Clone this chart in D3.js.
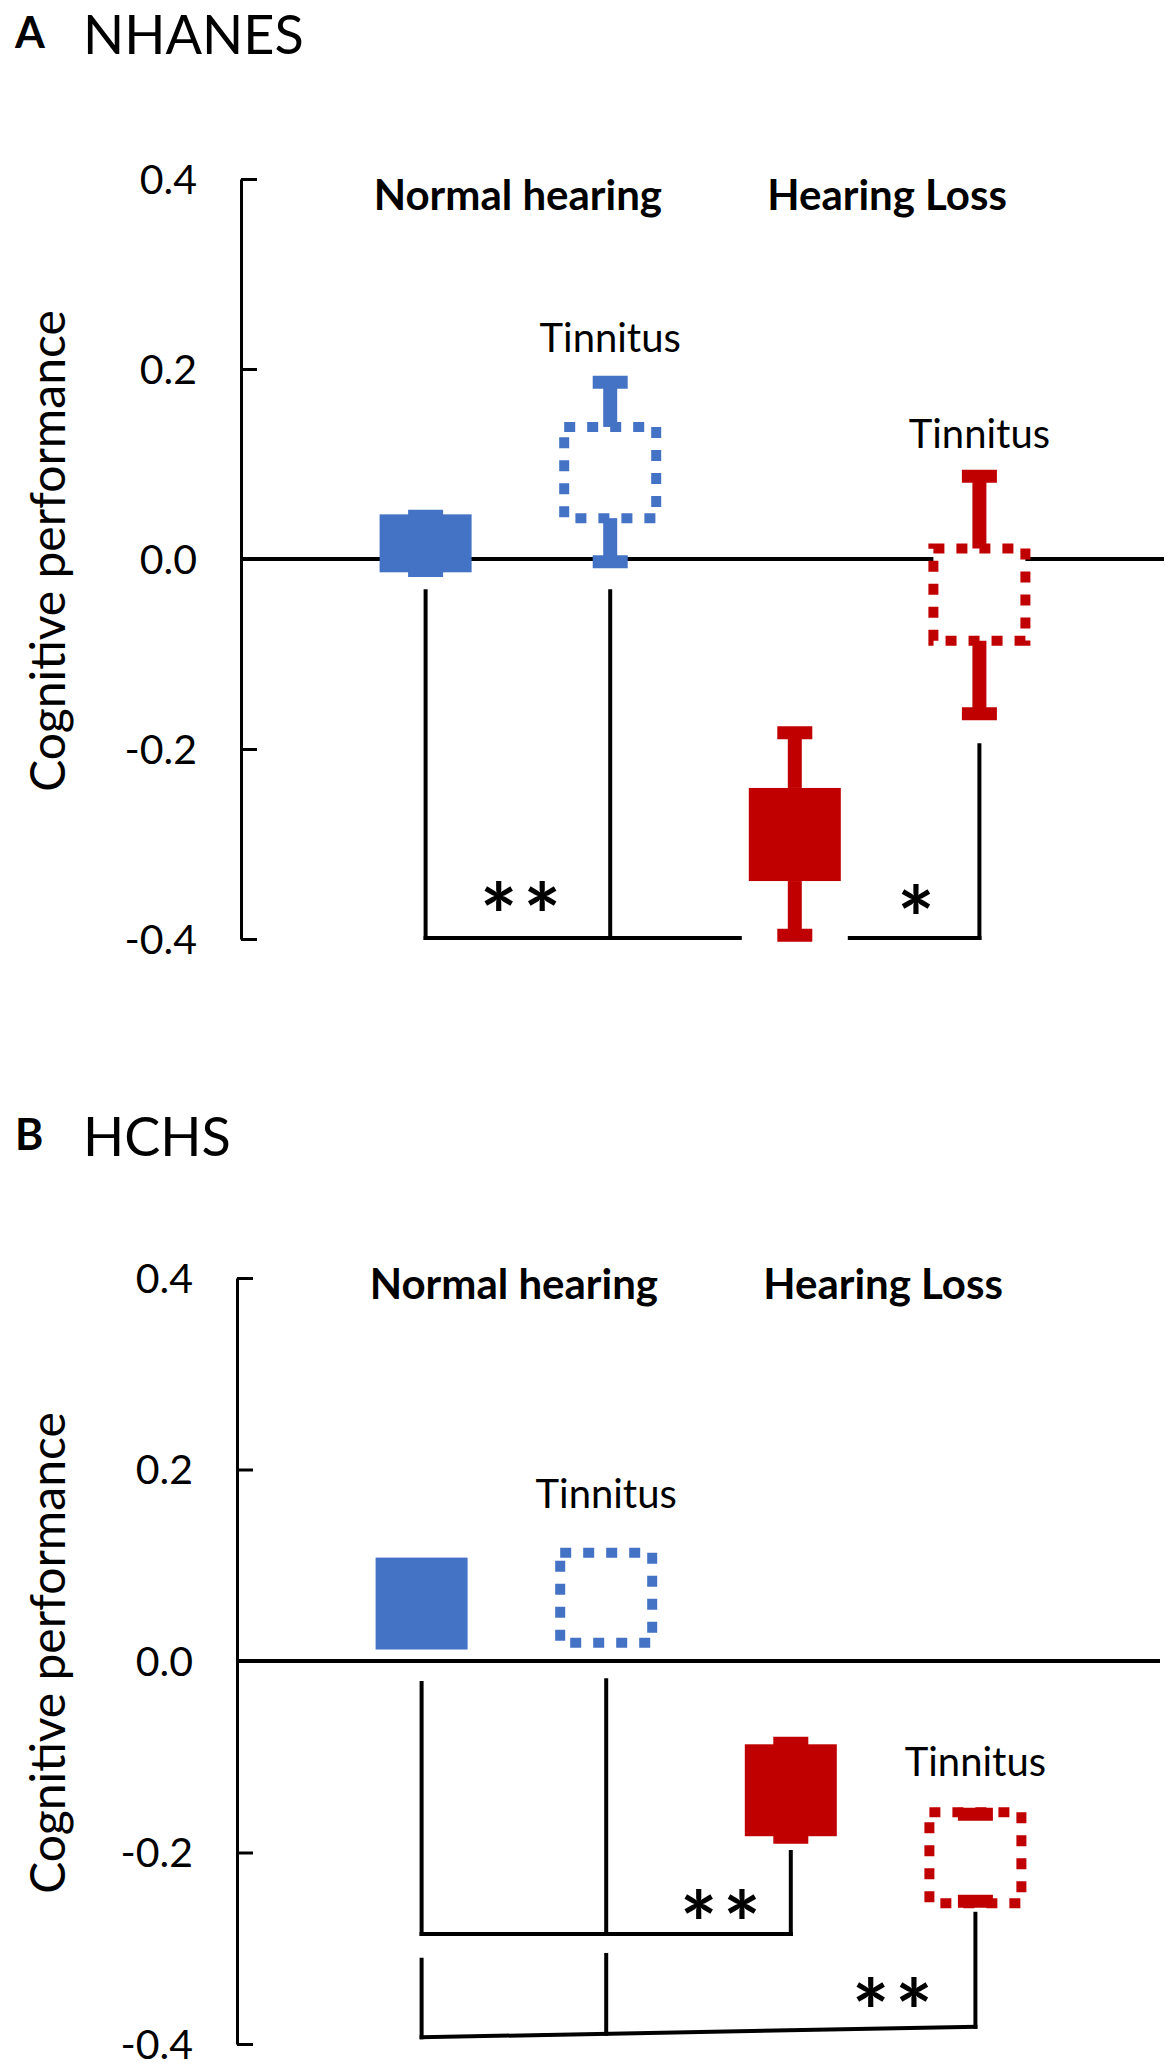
<!DOCTYPE html>
<html>
<head>
<meta charset="utf-8">
<script src="https://cdn.jsdelivr.net/npm/d3@7"></script>
<style>
body { margin: 0; background: #fff; }
svg text { font-family: Lato, "Open Sans", sans-serif; fill: #000; }
</style>
</head>
<body>
<script>
// groups from left to right
var groups = ["Normal hearing", "Normal hearing + tinnitus", "Hearing loss", "Hearing loss + tinnitus"];
var hearing = ["normal", "normal", "loss", "loss"];
var tinnitus = [false, true, false, true];
var yTicks = [-0.4, -0.2, 0, 0.2, 0.4];

// NHANES: box edges and error bar ends (cognitive performance)
var nhanesBoxHi = [0.047, 0.139, -0.241, 0.011];
var nhanesBoxLo = [-0.014, 0.043, -0.339, -0.086];
var nhanesErrHi = [0.045, 0.186, -0.183, 0.087];
var nhanesErrLo = [-0.012, -0.003, -0.396, -0.163];
var nhanesTinnitusY = [0.218, 0.117];

// HCHS
var hchsBoxHi = [0.108, 0.113, -0.087, -0.158];
var hchsBoxLo = [0.012, 0.019, -0.183, -0.253];
var hchsErrHi = [null, null, -0.086, -0.160];
var hchsErrLo = [null, null, -0.184, -0.251];
var hchsTinnitusY = [0.160, -0.120];

// significance brackets: legs at group index, leg tops, base level (left, right)
var nhanesBrackets = [
    { legs: [0, 1, 3], tops: [-0.034, -0.034, -0.196], base: [-0.399, -0.399], gapAt: 2 }
];
var hchsBrackets = [
    { legs: [0, 1, 2], tops: [-0.023, -0.020, -0.1995], base: [-0.285, -0.285] },
    { legs: [0, 1, 3], tops: [-0.312, -0.307, -0.264], base: [-0.393, -0.382] }
];
var nhanesStars = [{ x: 0.514, y: -0.356, t: "**" }, { x: 2.656, y: -0.359, t: "*" }];
var hchsStars = [{ x: 1.618, y: -0.255, t: "**" }, { x: 2.55, y: -0.347, t: "**" }];

var color = d3.scaleOrdinal()
    .domain(["normal", "loss"])
    .range(["#4472C4", "#C00000"]);

var svg = d3.select("body").append("svg")
    .attr("width", 1176)
    .attr("height", 2069);

var panels = [
    { letter: "A", name: "NHANES", top: 0, axisX: 241, yRange: [939, 179], headerY: 210,
      boxHi: nhanesBoxHi, boxLo: nhanesBoxLo, errHi: nhanesErrHi, errLo: nhanesErrLo,
      tinY: nhanesTinnitusY, brackets: nhanesBrackets, stars: nhanesStars },
    { letter: "B", name: "HCHS", top: 1102, axisX: 237, yRange: [2044, 1278], headerY: 1299,
      boxHi: hchsBoxHi, boxLo: hchsBoxLo, errHi: hchsErrHi, errLo: hchsErrLo,
      tinY: hchsTinnitusY, brackets: hchsBrackets, stars: hchsStars }
];

panels.forEach(drawPanel);

function drawPanel(p) {
    var g = svg.append("g");

    var x = d3.scaleLinear().domain([-1, 4]).range([p.axisX, p.axisX + 923]);
    var y = d3.scaleLinear().domain([-0.4, 0.4]).range(p.yRange);

    // panel title
    g.append("text")
        .attr("x", 15).attr("y", p.top + 48)
        .style("font-size", "43px").style("font-weight", "bold")
        .text(p.letter);
    g.append("text")
        .attr("x", 83).attr("y", p.top + 54)
        .style("font-size", "54px")
        .text(p.name);

    // y axis, ticks pointing inward
    var axis = g.append("g")
        .attr("transform", "translate(" + p.axisX + ",0)")
        .call(d3.axisLeft(y)
            .tickValues(yTicks)
            .tickSizeInner(-16)
            .tickSizeOuter(0)
            .tickPadding(44)
            .tickFormat(function(d) { return d.toFixed(1); }));
    axis.select(".domain").attr("stroke", "#000").attr("stroke-width", 3);
    axis.selectAll(".tick line").attr("stroke", "#000").attr("stroke-width", 3);
    axis.selectAll(".tick text")
        .attr("dy", null)
        .attr("y", 14)
        .attr("font-family", null)
        .style("font-size", "41px");

    // zero line
    g.append("line")
        .attr("x1", p.axisX).attr("x2", x(4))
        .attr("y1", y(0)).attr("y2", y(0))
        .attr("stroke", "#000").attr("stroke-width", 4);

    // axis title
    g.append("text")
        .attr("transform", "translate(46," + (y(0) - 8) + ") rotate(-90)")
        .attr("text-anchor", "middle")
        .attr("dominant-baseline", "central")
        .style("font-size", "48px")
        .text("Cognitive performance");

    // group headers
    g.append("text")
        .attr("x", x(0.5)).attr("y", p.headerY)
        .attr("text-anchor", "middle")
        .style("font-size", "42px").style("font-weight", "bold")
        .text("Normal hearing");
    g.append("text")
        .attr("x", x(2.5)).attr("y", p.headerY)
        .attr("text-anchor", "middle")
        .style("font-size", "42px").style("font-weight", "bold")
        .text("Hearing Loss");

    // brackets
    p.brackets.forEach(function(b) {
        var n = b.legs.length;
        var baseAt = d3.scaleLinear()
            .domain([b.legs[0], b.legs[n - 1]])
            .range(b.base);
        b.legs.forEach(function(l, k) {
            g.append("line")
                .attr("x1", x(l)).attr("x2", x(l))
                .attr("y1", y(b.tops[k])).attr("y2", y(baseAt(l)))
                .attr("stroke", "#000").attr("stroke-width", 4)
                .attr("stroke-linecap", "square");
        });
        var segs = [[b.legs[0], b.legs[n - 1]]];
        if (b.gapAt !== undefined) {
            var gx = x(b.gapAt), half = 55;
            segs = [[b.legs[0], x.invert(gx - half)], [x.invert(gx + half), b.legs[n - 1]]];
        }
        segs.forEach(function(s) {
            g.append("line")
                .attr("x1", x(s[0])).attr("x2", x(s[1]))
                .attr("y1", y(baseAt(s[0]))).attr("y2", y(baseAt(s[1])))
                .attr("stroke", "#000").attr("stroke-width", 4)
                .attr("stroke-linecap", "square");
        });
    });

    // stars (asterisk glyph sits about 0.58em above the baseline)
    var starSize = 88;
    g.selectAll(".star")
        .data(p.stars)
        .enter().append("text")
        .attr("class", "star")
        .attr("x", function(d) { return x(d.x) + 3; })
        .attr("y", function(d) { return y(d.y) + starSize * 0.58; })
        .attr("text-anchor", "middle")
        .style("font-size", starSize + "px")
        .style("font-weight", "bold")
        .style("letter-spacing", "6px")
        .text(function(d) { return d.t; });

    // boxes
    var idx = d3.range(groups.length);
    g.selectAll(".box")
        .data(idx)
        .enter().append("rect")
        .attr("class", "box")
        .attr("x", function(i) { return x(i) - 46; })
        .attr("y", function(i) { return y(p.boxHi[i]); })
        .attr("width", 92)
        .attr("height", function(i) { return y(p.boxLo[i]) - y(p.boxHi[i]); })
        .attr("fill", function(i) { return tinnitus[i] ? "#fff" : color(hearing[i]); })
        .attr("stroke", function(i) { return tinnitus[i] ? color(hearing[i]) : "none"; })
        .attr("stroke-width", 10)
        .attr("stroke-dasharray", "11 12");

    // error bars
    idx.forEach(function(i) {
        var c = color(hearing[i]);
        [[p.boxHi[i], p.errHi[i]], [p.boxLo[i], p.errLo[i]]].forEach(function(e) {
            if (e[1] === null) return;
            g.append("line")
                .attr("x1", x(i)).attr("x2", x(i))
                .attr("y1", y(e[0])).attr("y2", y(e[1]))
                .attr("stroke", c).attr("stroke-width", 14);
            g.append("line")
                .attr("x1", x(i) - 17.5).attr("x2", x(i) + 17.5)
                .attr("y1", y(e[1])).attr("y2", y(e[1]))
                .attr("stroke", c).attr("stroke-width", 13);
        });
    });

    // tinnitus labels
    g.selectAll(".tin")
        .data([1, 3])
        .enter().append("text")
        .attr("class", "tin")
        .attr("x", function(i) { return x(i); })
        .attr("y", function(i, k) { return y(p.tinY[k]); })
        .attr("text-anchor", "middle")
        .style("font-size", "40px")
        .text("Tinnitus");
}
</script>
</body>
</html>
